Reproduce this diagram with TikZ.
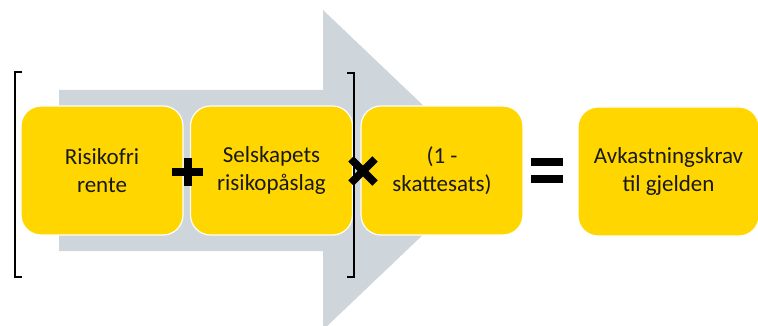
\documentclass[tikz,border=0pt]{standalone}
\usepackage{fontspec}
\setmainfont{Carlito}
\definecolor{boxyellow}{RGB}{255,214,0}
\definecolor{arrowgray}{RGB}{206,213,219}
\definecolor{txt}{RGB}{25,25,25}
\tikzset{
  box/.style={rectangle, rounded corners=20, fill=boxyellow, draw=white, line width=1.2,
    minimum width=162, minimum height=129, inner sep=0, align=center, text=txt,
    font=\fontsize{23}{28.5}\selectfont},
  bracket/.style={draw=black, line width=1.8},
  opbar/.style={fill=black, inner sep=0, rectangle}
}
\begin{document}
\begin{tikzpicture}[x=1pt,y=-1pt]
\useasboundingbox (0,0) rectangle (758,326);
\begin{scope}
\clip (0,0) rectangle (758,326);
\fill[arrowgray] (59,90) -- (323,90) -- (323,10) -- (491,170) -- (323,330) -- (323,251) -- (59,251) -- cycle;
\end{scope}
\node[box] (b1) at (102,170.5) {Risikofri\\rente};
\node[box] (b2) at (271.5,170.5) {Selskapets\\risikopåslag};
\node[box] (b3) at (442,170.5) {(1 -\\skattesats)};
\node[box, minimum width=181] (b4) at (668.5,171.5) {Avkastningskrav\\til gjelden};
% brackets
\draw[bracket] (22,72) -- (15,72) -- (15,277) -- (22,277);
\draw[bracket] (347,73) -- (354,73) -- (354,277) -- (347,277);
% plus
\node[opbar, minimum width=31, minimum height=8] (plusH) at (187.5,172) {};
\node[opbar, minimum width=8, minimum height=28] (plusV) at (187.5,172) {};
% times
\node[opbar, minimum width=34, minimum height=7.5, rotate=-45] (timesA) at (363,171) {};
\node[opbar, minimum width=34, minimum height=7.5, rotate=45] (timesB) at (363,171) {};
% equals
\node[opbar, minimum width=32, minimum height=8] (eqA) at (547,162) {};
\node[opbar, minimum width=32, minimum height=8] (eqB) at (547,179.5) {};
\end{tikzpicture}
\end{document}
